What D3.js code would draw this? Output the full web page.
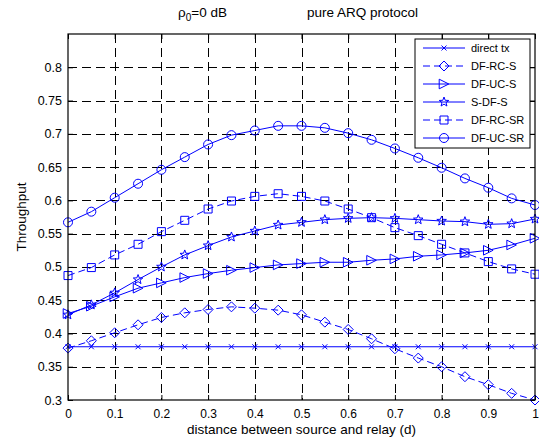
<!DOCTYPE html>
<html>
<head>
<meta charset="utf-8">
<script src="https://cdn.jsdelivr.net/npm/d3@7"></script>
<style>
  body { margin: 0; background: #fff; }
  text { font-family: "Liberation Sans", Arial, sans-serif; }
</style>
</head>
<body>
<svg id="chart"></svg>
<script>
// distance d
const dist = [0, 0.05, 0.1, 0.15, 0.2, 0.25, 0.3, 0.35, 0.4, 0.45, 0.5,
              0.55, 0.6, 0.65, 0.7, 0.75, 0.8, 0.85, 0.9, 0.95, 1.0];

const directTx = [0.38, 0.38, 0.38, 0.38, 0.38, 0.38, 0.38, 0.38, 0.38, 0.38, 0.38,
                  0.38, 0.38, 0.38, 0.38, 0.38, 0.38, 0.38, 0.38, 0.38, 0.38];
const dfRcS   = [0.378, 0.389, 0.401, 0.413, 0.424, 0.431, 0.436, 0.440, 0.438, 0.435, 0.428,
                 0.417, 0.406, 0.392, 0.377, 0.363, 0.350, 0.335, 0.323, 0.310, 0.300];
const dfUcS   = [0.430, 0.441, 0.455, 0.468, 0.476, 0.484, 0.490, 0.495, 0.499, 0.503, 0.505,
                 0.507, 0.507, 0.510, 0.512, 0.516, 0.518, 0.521, 0.525, 0.533, 0.543];
const sDfS    = [0.428, 0.443, 0.461, 0.481, 0.500, 0.518, 0.532, 0.545, 0.554, 0.563, 0.567,
                 0.571, 0.573, 0.574, 0.573, 0.571, 0.569, 0.568, 0.564, 0.565, 0.572];
const dfRcSR  = [0.487, 0.499, 0.518, 0.534, 0.553, 0.570, 0.587, 0.599, 0.606, 0.610, 0.606,
                 0.599, 0.587, 0.574, 0.559, 0.547, 0.534, 0.521, 0.508, 0.497, 0.489];
const dfUcSR  = [0.567, 0.583, 0.604, 0.625, 0.646, 0.665, 0.684, 0.698, 0.705, 0.712, 0.712,
                 0.709, 0.701, 0.691, 0.678, 0.664, 0.649, 0.633, 0.619, 0.603, 0.593];

const seriesNames = ["direct tx", "DF-RC-S", "DF-UC-S", "S-DF-S", "DF-RC-SR", "DF-UC-SR"];
const seriesValues = [directTx, dfRcS, dfUcS, sDfS, dfRcSR, dfUcSR];
const seriesMarkers = ["x", "diamond", "triangle", "star", "square", "circle"];
const seriesDashed = [false, true, false, false, true, false];

const xTicks = [0, 0.1, 0.2, 0.3, 0.4, 0.5, 0.6, 0.7, 0.8, 0.9, 1];
const yTicks = [0.3, 0.35, 0.4, 0.45, 0.5, 0.55, 0.6, 0.65, 0.7, 0.75, 0.8];

const W = 539, H = 441;
const blue = "#0000ff";

const svg = d3.select("#chart").attr("width", W).attr("height", H);

const x = d3.scaleLinear().domain([0, 1]).range([68, 535]);
const y = d3.scaleLinear().domain([0.3, 0.85]).range([400, 34]);

// marker path strings
function markerPath(type) {
  if (type == "circle") {
    const r = 4.5;
    return `M${r},0A${r},${r} 0 1,1 ${-r},0A${r},${r} 0 1,1 ${r},0Z`;
  }
  if (type == "square") {
    const s = 4;
    return `M${-s},${-s}L${s},${-s}L${s},${s}L${-s},${s}Z`;
  }
  if (type == "diamond") {
    const r = 5;
    return `M0,${-r}L${r},0L0,${r}L${-r},0Z`;
  }
  if (type == "triangle") {
    const r = 4.8;
    return `M${r},0L${-r},${-r}L${-r},${r}Z`;
  }
  if (type == "star") {
    const ro = 5, ri = 2.1;
    let p = "";
    for (let i = 0; i < 10; i++) {
      const a = -Math.PI / 2 + i * Math.PI / 5;
      const r = i % 2 ? ri : ro;
      p += (i ? "L" : "M") + (r * Math.cos(a)).toFixed(2) + "," + (r * Math.sin(a)).toFixed(2);
    }
    return p + "Z";
  }
  const r = 2.5;
  return `M${-r},${-r}L${r},${r}M${-r},${r}L${r},${-r}`;
}

// grid
const grid = svg.append("g")
  .attr("stroke", "#000")
  .attr("stroke-width", 1)
  .attr("stroke-dasharray", "9,5");
grid.selectAll("line.vg")
  .data(xTicks.slice(1, -1))
  .join("line")
    .attr("x1", d => Math.round(x(d)) + 0.5)
    .attr("x2", d => Math.round(x(d)) + 0.5)
    .attr("y1", y(0.85))
    .attr("y2", y(0.3));
grid.selectAll("line.hg")
  .data(yTicks.slice(1))
  .join("line")
    .attr("y1", d => Math.round(y(d)) + 0.5)
    .attr("y2", d => Math.round(y(d)) + 0.5)
    .attr("x1", x(0))
    .attr("x2", x(1));

// axes (MATLAB box: ticks inside, on all sides)
const fmt = d => String(+d.toFixed(2));
svg.append("g")
  .attr("transform", `translate(0,${y(0.3)})`)
  .call(d3.axisBottom(x).tickValues(xTicks).tickSize(-5).tickPadding(9).tickFormat(fmt))
  .call(g => g.select(".domain").remove())
  .selectAll("text").attr("font-size", 12).attr("fill", "#000");
svg.append("g")
  .attr("transform", `translate(0,${y(0.85)})`)
  .call(d3.axisTop(x).tickValues(xTicks).tickSize(-5).tickFormat(""))
  .call(g => g.select(".domain").remove());
svg.append("g")
  .attr("transform", `translate(${x(0)},0)`)
  .call(d3.axisLeft(y).tickValues(yTicks).tickSize(-5).tickPadding(6).tickFormat(fmt))
  .call(g => g.select(".domain").remove())
  .selectAll("text").attr("font-size", 12.5).attr("fill", "#000");
svg.append("g")
  .attr("transform", `translate(${x(1)},0)`)
  .call(d3.axisRight(y).tickValues(yTicks).tickSize(-5).tickFormat(""))
  .call(g => g.select(".domain").remove());

// series
const line = d3.line().x((d, i) => x(dist[i])).y(d => y(d));
seriesValues.forEach((vals, k) => {
  const g = svg.append("g");
  g.append("path")
    .attr("d", line(vals))
    .attr("fill", "none")
    .attr("stroke", blue)
    .attr("stroke-width", 1)
    .attr("stroke-dasharray", seriesDashed[k] ? "7,4" : null);
  g.selectAll("path.mk")
    .data(vals)
    .join("path")
      .attr("class", "mk")
      .attr("transform", (d, i) => `translate(${x(dist[i])},${y(d)})`)
      .attr("d", markerPath(seriesMarkers[k]))
      .attr("fill", "none")
      .attr("stroke", blue)
      .attr("stroke-width", 1);
});

// frame
svg.append("rect")
  .attr("x", x(0)).attr("y", y(0.85))
  .attr("width", x(1) - x(0)).attr("height", y(0.3) - y(0.85))
  .attr("fill", "none").attr("stroke", "#000").attr("stroke-width", 1.2);

// legend
const lg = svg.append("g").attr("transform", "translate(415,39)");
lg.append("rect")
  .attr("width", 115).attr("height", 109)
  .attr("fill", "#fff").attr("stroke", "#000").attr("stroke-width", 1);
seriesNames.forEach((name, k) => {
  const yy = 9 + k * 18;
  lg.append("line")
    .attr("x1", 8).attr("x2", 50).attr("y1", yy).attr("y2", yy)
    .attr("stroke", blue)
    .attr("stroke-dasharray", seriesDashed[k] ? "7,4" : null);
  lg.append("path")
    .attr("transform", `translate(29,${yy})`)
    .attr("d", markerPath(seriesMarkers[k]))
    .attr("fill", "none").attr("stroke", blue);
  lg.append("text")
    .attr("x", 56).attr("y", yy + 4)
    .attr("font-size", 11)
    .text(name);
});

// titles
const title = svg.append("text").attr("y", 17).attr("font-size", 13.5);
title.append("tspan").attr("x", 178).text("ρ");
title.append("tspan").attr("dy", 4).attr("font-size", 10).text("0");
title.append("tspan").attr("dy", -4).text("=0 dB");
svg.append("text").attr("x", 307).attr("y", 17).attr("font-size", 13.5)
  .text("pure ARQ protocol");

svg.append("text")
  .attr("x", (x(0) + x(1)) / 2).attr("y", 434)
  .attr("text-anchor", "middle").attr("font-size", 13.5)
  .text("distance between source and relay (d)");

svg.append("text")
  .attr("transform", `translate(26,${(y(0.3) + y(0.85)) / 2}) rotate(-90)`)
  .attr("text-anchor", "middle").attr("font-size", 13.5)
  .text("Throughput");
</script>
</body>
</html>
